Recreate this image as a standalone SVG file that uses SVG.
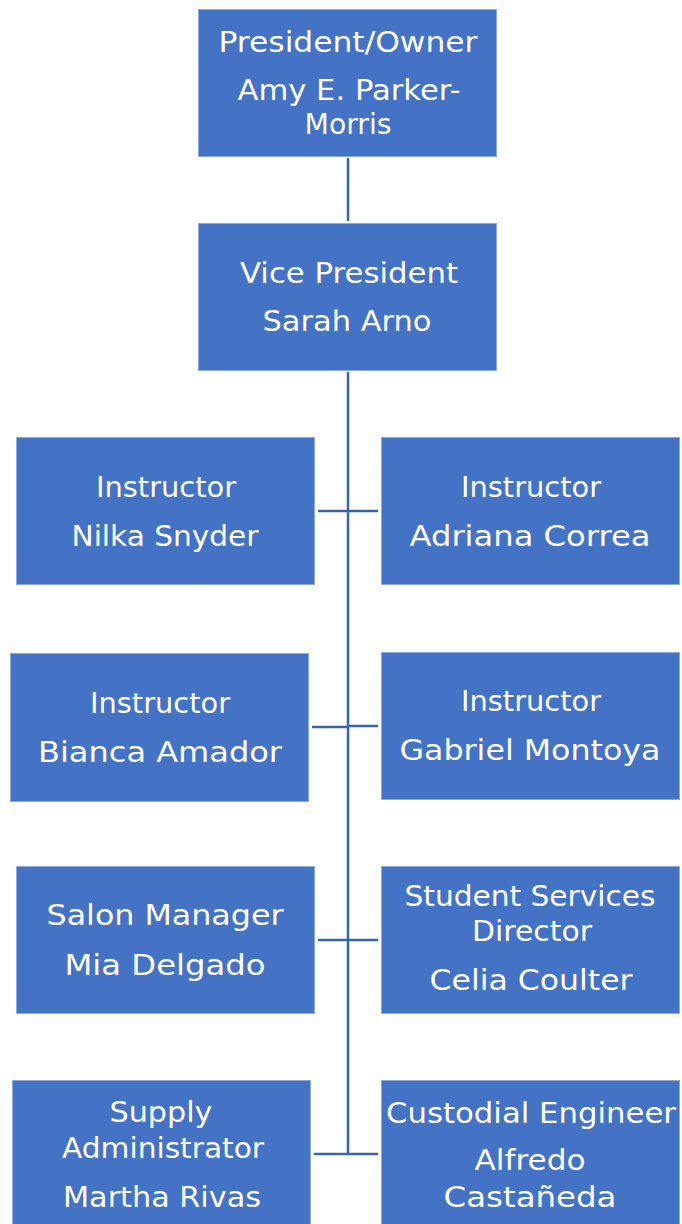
<svg xmlns="http://www.w3.org/2000/svg" width="682" height="1224" viewBox="0 0 682 1224">
<style>
.box{fill:#4472C4;stroke:#8EA9DB;stroke-width:1}
.t{font-family:"DejaVu Sans","Liberation Sans",sans-serif;font-size:28px;fill:#FFFFFF;text-anchor:middle}
.c{stroke:#3A63AD;stroke-width:2.5;fill:none}
</style>
<rect width="682" height="1224" fill="#FFFFFF"/>
<g id="connectors">
<line class="c" x1="348" y1="158" x2="348" y2="221"/>
<line class="c" x1="348" y1="372" x2="348" y2="1155"/>
<line class="c" x1="318" y1="511" x2="378" y2="511"/>
<line class="c" x1="312" y1="727" x2="348" y2="727"/>
<line class="c" x1="348" y1="726" x2="378" y2="726"/>
<line class="c" x1="318" y1="940" x2="378" y2="940"/>
<line class="c" x1="314" y1="1154" x2="378" y2="1154"/>
</g>
<g id="president">
<rect class="box" x="198.5" y="9.5" width="298" height="147"/>
<text class="t" x="348" y="52" textLength="259" lengthAdjust="spacingAndGlyphs">President/Owner</text>
<text class="t" x="349" y="100" textLength="223" lengthAdjust="spacingAndGlyphs">Amy E. Parker-</text>
<text class="t" x="348" y="134" textLength="87" lengthAdjust="spacingAndGlyphs">Morris</text>
</g>
<g id="vice-president">
<rect class="box" x="198.5" y="223.5" width="298" height="147"/>
<text class="t" x="349" y="283" textLength="218" lengthAdjust="spacingAndGlyphs">Vice President</text>
<text class="t" x="347" y="331" textLength="169" lengthAdjust="spacingAndGlyphs">Sarah Arno</text>
</g>
<g id="nilka">
<rect class="box" x="16.5" y="437.5" width="298" height="147"/>
<text class="t" x="166" y="497" textLength="140" lengthAdjust="spacingAndGlyphs">Instructor</text>
<text class="t" x="165" y="546" textLength="187" lengthAdjust="spacingAndGlyphs">Nilka Snyder</text>
</g>
<g id="adriana">
<rect class="box" x="381.5" y="437.5" width="298" height="147"/>
<text class="t" x="531" y="497" textLength="140" lengthAdjust="spacingAndGlyphs">Instructor</text>
<text class="t" x="530" y="546" textLength="241" lengthAdjust="spacingAndGlyphs">Adriana Correa</text>
</g>
<g id="bianca">
<rect class="box" x="10.5" y="653.5" width="298" height="148"/>
<text class="t" x="160" y="713" textLength="140" lengthAdjust="spacingAndGlyphs">Instructor</text>
<text class="t" x="160" y="762" textLength="244" lengthAdjust="spacingAndGlyphs">Bianca Amador</text>
</g>
<g id="gabriel">
<rect class="box" x="381.5" y="652.5" width="298" height="147"/>
<text class="t" x="531" y="711" textLength="140" lengthAdjust="spacingAndGlyphs">Instructor</text>
<text class="t" x="530" y="760" textLength="261" lengthAdjust="spacingAndGlyphs">Gabriel Montoya</text>
</g>
<g id="mia">
<rect class="box" x="16.5" y="866.5" width="298" height="147"/>
<text class="t" x="165" y="925" textLength="237" lengthAdjust="spacingAndGlyphs">Salon Manager</text>
<text class="t" x="165" y="975" textLength="201" lengthAdjust="spacingAndGlyphs">Mia Delgado</text>
</g>
<g id="celia">
<rect class="box" x="381.5" y="866.5" width="298" height="147"/>
<text class="t" x="530" y="906" textLength="251" lengthAdjust="spacingAndGlyphs">Student Services</text>
<text class="t" x="532" y="941" textLength="120" lengthAdjust="spacingAndGlyphs">Director</text>
<text class="t" x="531" y="990" textLength="203" lengthAdjust="spacingAndGlyphs">Celia Coulter</text>
</g>
<g id="martha">
<rect class="box" x="12.5" y="1080.5" width="298" height="148"/>
<text class="t" x="161" y="1122" textLength="103" lengthAdjust="spacingAndGlyphs">Supply</text>
<text class="t" x="163" y="1158" textLength="202" lengthAdjust="spacingAndGlyphs">Administrator</text>
<text class="t" x="162" y="1207" textLength="198" lengthAdjust="spacingAndGlyphs">Martha Rivas</text>
</g>
<g id="alfredo">
<rect class="box" x="381.5" y="1080.5" width="298" height="148"/>
<text class="t" x="531" y="1123" textLength="290" lengthAdjust="spacingAndGlyphs">Custodial Engineer</text>
<text class="t" x="530" y="1170" textLength="111" lengthAdjust="spacingAndGlyphs">Alfredo</text>
<text class="t" x="530" y="1207" textLength="173" lengthAdjust="spacingAndGlyphs">Castañeda</text>
</g>
</svg>
